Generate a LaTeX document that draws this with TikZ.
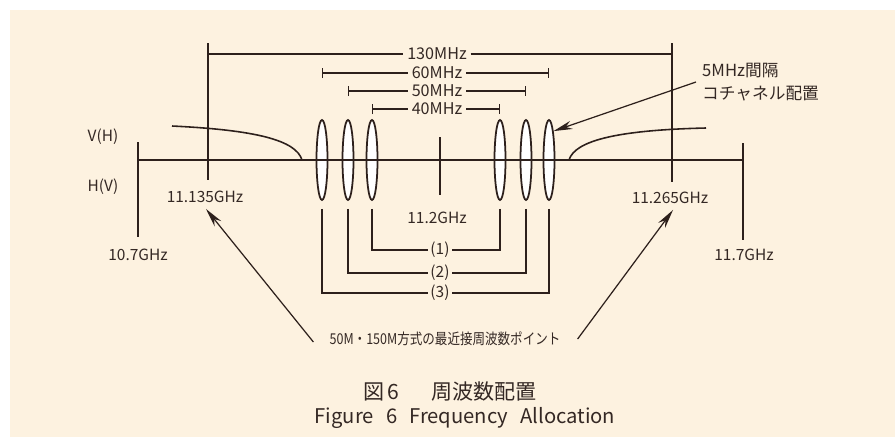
\documentclass[tikz,border=0pt]{standalone}
\usepackage{fontspec}
\usepackage{graphicx}
\setmainfont{Noto Sans CJK JP}
\usetikzlibrary{arrows.meta,positioning,shapes.geometric,calc}
\definecolor{papercol}{RGB}{253,242,224}
\definecolor{inkcol}{RGB}{45,32,28}
\definecolor{textcol}{RGB}{52,40,36}
\tikzset{
  baseaxis/.style={draw=inkcol,line width=.9pt},
  dimline/.style={draw=inkcol,line width=.8pt},
  dimtick/.style={dimline,{Bar[width=2mm]}-},
  chan/.style={ellipse,draw=inkcol,fill=white,line width=1pt,inner sep=0pt,
               minimum width=2.2mm,minimum height=16mm},
  freq/.style={font=\fontsize{8.8}{10}\selectfont,text=textcol,inner sep=1pt},
  dimlbl/.style={font=\fontsize{9.2}{10}\selectfont,text=textcol,inner sep=2pt},
  leader/.style={draw=inkcol,line width=.8pt},
  ptr/.style={-{Stealth[length=3.8mm,width=1.7mm]},draw=inkcol,line width=.7pt},
}

\begin{document}
\begin{tikzpicture}[x=0.02cm,y=-0.02cm,font=\fontsize{9}{11}\selectfont]
  \useasboundingbox (0,0) rectangle (895,437);
  \fill[white] (0,0) rectangle (895,437);
  \fill[papercol] (10,10) rectangle (895,437);

  % co-channels, 5MHz apart
  \node[chan] (l3) at (322,160) {};
  \node[chan] (l2) at (348,160) {};
  \node[chan] (l1) at (372,160) {};
  \node[chan] (r1) at (500,160) {};
  \node[chan] (r2) at (526,160) {};
  \node[chan] (r3) at (549,160) {};

  % frequency axis and marks
  \draw[baseaxis] (138,160) -- (743,160);
  \draw[baseaxis] (138,142) -- (138,237);
  \draw[baseaxis] (208,43) -- (208,180);
  \draw[baseaxis] (440,137) -- (440,195);
  \draw[baseaxis] (672,43) -- (672,182);
  \draw[baseaxis] (743,143) -- (743,240);
  \draw[baseaxis] (172,126) .. controls (255,130) and (296,140) .. (302,160);
  \draw[baseaxis] (569,160) .. controls (575,140) and (620,130) .. (706,128);

  \node[freq] (vh) at (103,137) {V(H)};
  \node[freq] (hv) at (103,187) {H(V)};
  \node[freq] (f107) at (138,255) {10.7GHz};
  \node[freq] (f1135) at (205,197) {11.135GHz};
  \node[freq] (f112) at (437,218) {11.2GHz};
  \node[freq] (f11265) at (670,198) {11.265GHz};
  \node[freq] (f117) at (744,255) {11.7GHz};

  % spans
  \node[dimlbl] (d130) at (437,54) {130MHz};
  \draw[dimline] (208,54) -- (d130.west);
  \draw[dimline] (d130.east) -- (672,54);
  \node[dimlbl] (d60) at (437,73) {60MHz};
  \draw[dimtick] (l3 |- d60) -- (d60.west);
  \draw[dimtick] (r3 |- d60) -- (d60.east);
  \node[dimlbl] (d50) at (437,91) {50MHz};
  \draw[dimtick] (l2 |- d50) -- (d50.west);
  \draw[dimtick] (r2 |- d50) -- (d50.east);
  \node[dimlbl] (d40) at (437,109) {40MHz};
  \draw[dimtick] (l1 |- d40) -- (d40.west);
  \draw[dimtick] (r1 |- d40) -- (d40.east);

  % channel pairs
  \node[freq] (p1) at (440,250) {(1)};
  \draw[leader] ($(l1.south)+(0,8)$) |- (p1.west);
  \draw[leader] ($(r1.south)+(0,8)$) |- (p1.east);
  \node[freq] (p2) at (440,273) {(2)};
  \draw[leader] ($(l2.south)+(0,8)$) |- (p2.west);
  \draw[leader] ($(r2.south)+(0,8)$) |- (p2.east);
  \node[freq] (p3) at (440,293) {(3)};
  \draw[leader] ($(l3.south)+(0,8)$) |- (p3.west);
  \draw[leader] ($(r3.south)+(0,8)$) |- (p3.east);

  % pointers
  \node[font=\fontsize{8.5}{10}\selectfont,text=textcol] (note) at (445,339)
    {\scalebox{.84}[1]{50M・150M方式の最近接周波数ポイント}};
  \draw[ptr] ($(note.west)+(-10,3)$) -- ($(f1135.south)+(1,4)$);
  \draw[ptr] ($(note.east)+(11,0)$) -- ($(f11265.south)+(3,4)$);
  \node[font=\fontsize{9.5}{13}\selectfont,text=textcol,align=left,anchor=west]
    (conote) at (696,82) {5MHz間隔\\コチャネル配置};
  \draw[ptr] (conote.west) -- (r3.north east);

  % caption
  \node[font=\fontsize{12}{14}\selectfont,text=textcol] (capjp) at (450,392)
    {図\,6\hspace{1.5em}周波数配置};
  \node[font=\fontsize{11.5}{14}\selectfont,text=textcol] (capen) at (465,418)
    {Figure\hspace{.6em}6\hspace{.6em}Frequency\hspace{.6em}Allocation};
\end{tikzpicture}
\end{document}
